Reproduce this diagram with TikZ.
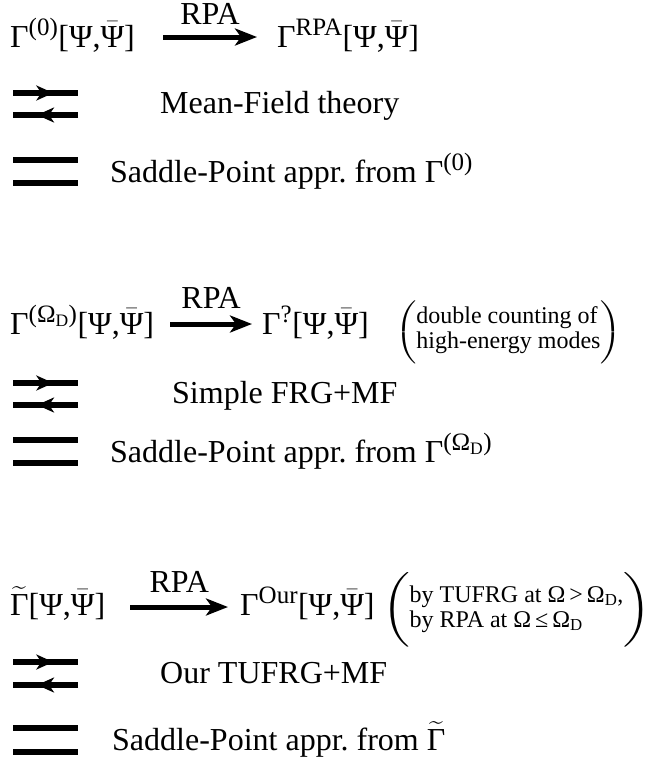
\RequirePackage{fix-cm}
\documentclass[tikz,border=0pt]{standalone}
\usepackage{amsmath}
\usepackage{graphicx}
\usepackage{fontspec}
\setmainfont{Liberation Serif}
\usetikzlibrary{arrows.meta,positioning,calc}

\newcommand{\psibar}{\ensuremath{\bar{\mbox{Ψ}}}}
\newcommand{\gtilde}{\ensuremath{\widetilde{\mbox{Γ}}}}
\newcommand{\fields}{[Ψ,\psibar]}
\newcommand{\up}[1]{\textsuperscript{\fontsize{25}{25}\selectfont #1}}
\newcommand{\mainsize}{\fontsize{32}{36}\selectfont}
\newcommand{\notesize}{\fontsize{24}{25}\selectfont}
\newcommand{\lpar}[1]{\scalebox{1.4}[1]{\fontsize{#1}{#1}\selectfont$\Bigg($}}
\newcommand{\rpar}[1]{\scalebox{1.4}[1]{\fontsize{#1}{#1}\selectfont$\Bigg)$}}

\begin{document}
\begin{tikzpicture}[
    x=1pt, y=1pt,
    term/.style={inner sep=0pt, anchor=base west, font=\mainsize},
    note/.style={inner sep=0pt, anchor=west, font=\notesize},
    rpa/.style={-{Stealth[length=22pt, width=17pt, inset=6pt]}, line width=5pt},
    half/.style={-{Stealth[length=17pt, width=15pt, inset=5pt]}, line width=5pt},
    bar/.style={line width=5.5pt}
]
\useasboundingbox (0,0) rectangle (654,-764);

% First block: bare action
\node[term] (g0) at (10,-47) {Γ\up{(0)}\fields};
\node[term] (grpa) at (277,-47) {Γ\up{RPA}\fields};
\draw[rpa] ([shift={(28,10)}]g0.base east) -- node[above=10pt, inner sep=0pt, font=\mainsize] {RPA} ([shift={(-20,10)}]grpa.base west);

\node[term] (mf1) at (160,-113) {Mean-Field theory};
\coordinate (mf1a) at (13,-93);  \coordinate (mf1b) at (78,-93);
\coordinate (mf1c) at (13,-115); \coordinate (mf1d) at (78,-115);
\draw[bar] (mf1a) -- (mf1b);
\draw[half] (mf1a) -- ($(mf1a)!0.62!(mf1b)$);
\draw[bar] (mf1c) -- (mf1d);
\draw[half] (mf1d) -- ($(mf1d)!0.63!(mf1c)$);

\node[term] (sp1) at (110,-182) {Saddle-Point appr.\ from Γ\up{(0)}};
\coordinate (sp1a) at (13,-160); \coordinate (sp1b) at (78,-160);
\coordinate (sp1c) at (13,-183); \coordinate (sp1d) at (78,-183);
\draw[bar] (sp1a) -- (sp1b);
\draw[bar] (sp1c) -- (sp1d);

% Second block: action at scale Omega_D
\node[term] (gd) at (10,-334) {Γ\up{(Ω\textsubscript{D})}\fields};
\node[term] (gq) at (262,-334) {Γ\up{?}\fields};
\draw[rpa] ([shift={(16,10)}]gd.base east) -- node[above=13pt, inner sep=0pt, font=\mainsize] {RPA} ([shift={(-10,10)}]gq.base west);
\node[note] (dc) at ([xshift=26pt, yshift=-10pt]gq.east) {\lpar{19}\begin{tabular}{@{}l@{}}double counting of\\high-energy modes\end{tabular}\rpar{19}};

\node[term] (mf2) at (172,-403) {Simple FRG+MF};
\coordinate (mf2a) at (13,-383); \coordinate (mf2b) at (78,-383);
\coordinate (mf2c) at (13,-405); \coordinate (mf2d) at (78,-405);
\draw[bar] (mf2a) -- (mf2b);
\draw[half] (mf2a) -- ($(mf2a)!0.62!(mf2b)$);
\draw[bar] (mf2c) -- (mf2d);
\draw[half] (mf2d) -- ($(mf2d)!0.63!(mf2c)$);

\node[term] (sp2) at (110,-462) {Saddle-Point appr.\ from Γ\up{(Ω\textsubscript{D})}};
\coordinate (sp2a) at (13,-440); \coordinate (sp2b) at (78,-440);
\coordinate (sp2c) at (13,-463); \coordinate (sp2d) at (78,-463);
\draw[bar] (sp2a) -- (sp2b);
\draw[bar] (sp2c) -- (sp2d);

% Third block: our flow
\node[term] (gt) at (10,-615) {\gtilde\fields};
\node[term] (gour) at (240,-615) {Γ\up{Our}\fields};
\draw[rpa] ([shift={(25,8)}]gt.base east) -- node[above=12pt, inner sep=0pt, font=\mainsize] {RPA} ([shift={(-12,8)}]gour.base west);
\node[note] (tu) at ([xshift=7pt, yshift=-6pt]gour.east) {\lpar{26}\begin{tabular}{@{}l@{}}by TUFRG at Ω\,>\,Ω\textsubscript{D},\\by RPA at Ω\,≤\,Ω\textsubscript{D}\end{tabular}\rpar{26}};

\node[term] (mf3) at (160,-683) {Our TUFRG+MF};
\coordinate (mf3a) at (13,-662); \coordinate (mf3b) at (78,-662);
\coordinate (mf3c) at (13,-685); \coordinate (mf3d) at (78,-685);
\draw[bar] (mf3a) -- (mf3b);
\draw[half] (mf3a) -- ($(mf3a)!0.62!(mf3b)$);
\draw[bar] (mf3c) -- (mf3d);
\draw[half] (mf3d) -- ($(mf3d)!0.63!(mf3c)$);

\node[term] (sp3) at (112,-750) {Saddle-Point appr.\ from \gtilde};
\coordinate (sp3a) at (13,-728); \coordinate (sp3b) at (78,-728);
\coordinate (sp3c) at (13,-752); \coordinate (sp3d) at (78,-752);
\draw[bar] (sp3a) -- (sp3b);
\draw[bar] (sp3c) -- (sp3d);

\end{tikzpicture}
\end{document}
